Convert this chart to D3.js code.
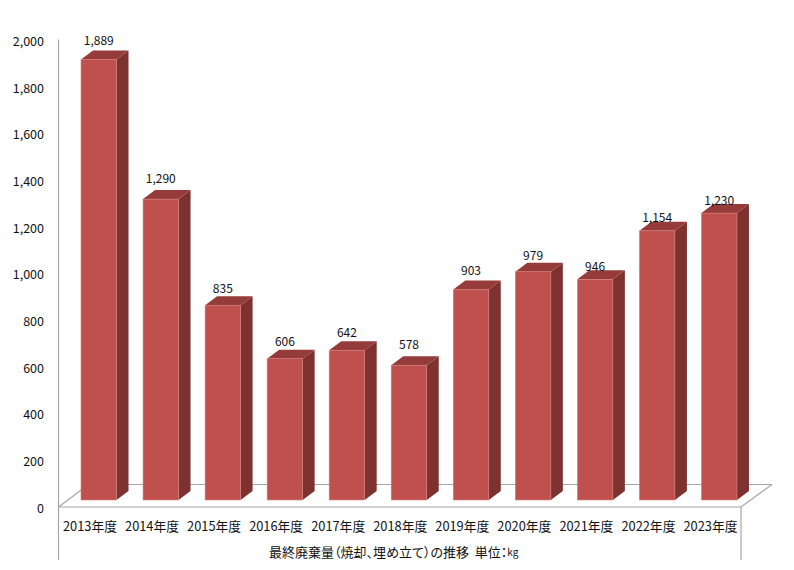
<!DOCTYPE html>
<html><head><meta charset="utf-8">
<script src="https://cdn.jsdelivr.net/npm/d3@7/dist/d3.min.js"></script>
<style>html,body{margin:0;background:#fff}svg{display:block}
text{font-family:"Noto Sans CJK JP","Noto Sans",sans-serif;font-size:12.5px;fill:#111}
.xl{font-size:12.8px}.vl{font-size:12px}.tl{font-size:13px;font-feature-settings:"palt"}</style>
</head><body><svg id="c" width="794" height="570"></svg>
<script>
const categories=["2013年度","2014年度","2015年度","2016年度","2017年度","2018年度","2019年度","2020年度","2021年度","2022年度","2023年度"];
const values=[1889,1290,835,606,642,578,903,979,946,1154,1230];
const yTicks=[0,200,400,600,800,1000,1200,1400,1600,1800,2000];
const axisTitle="最終廃棄量\uFF08焼却、埋め立て\uFF09の推移  単位\uFF1A";
const axisUnit="kg";
const labelGap=[19.5,21.5,17.5,18.5,18.5,21.5,19.5,17.5,13.5,14.5,13.5];

const plotLeft=58.5,plotRight=741,floorF=507,plotTop=40.5,depX=12,depY=9,barW=35.5;
const svg=d3.select("#c");
const x=d3.scaleBand().domain(categories).range([plotLeft,plotRight]);
const y=d3.scaleLinear().domain([0,2000]).range([floorF,plotTop]);
const barBase=7;
const grey="#a6a6a6";
const line=(a,b,c,d)=>svg.append("line").attr("x1",a).attr("y1",b).attr("x2",c).attr("y2",d).attr("stroke",grey).attr("stroke-width",1.2);
line(plotLeft,plotTop-1,plotLeft,560);
line(plotLeft,floorF,plotRight,floorF);
line(plotRight,floorF,plotRight,560);
line(plotLeft,floorF,plotLeft+24,floorF-18);
line(plotLeft+24,484.5,772,484.5);
line(plotRight,floorF,772,484.5);

svg.selectAll(".yl").data(yTicks).join("text").attr("class","yl")
 .attr("x",44).attr("y",d=>y(d)).attr("text-anchor","end").attr("dominant-baseline","central")
 .text(d3.format(","));

const bars=svg.selectAll(".b").data(categories.map((c,i)=>({c,v:values[i],i}))).join("g").attr("class","b")
 .attr("transform",d=>`translate(${x(d.c)+22.5},0)`);
const by=d=>y(d.v)-barBase, bb=floorF-barBase;
bars.append("path").attr("fill","#7d3230")
 .attr("d",d=>`M${barW},${by(d)}l${depX},${-depY}L${barW+depX},${bb-depY}L${barW},${bb}Z`);
bars.append("path").attr("fill","#953b39")
 .attr("d",d=>`M0,${by(d)}l${depX},${-depY}h${barW}l${-depX},${depY}Z`);
bars.append("rect").attr("fill","#c0504d").attr("stroke","#d27f7c").attr("stroke-width",.6)
 .attr("x",0).attr("y",by).attr("width",barW).attr("height",d=>bb-by(d));
bars.append("text").attr("class","vl").attr("x",barW/2).attr("y",d=>by(d)-labelGap[d.i]).attr("text-anchor","middle")
 .attr("dominant-baseline","central").text(d=>d3.format(",")(d.v));

svg.selectAll(".xl").data(categories).join("text").attr("class","xl")
 .attr("x",d=>x(d)+x.bandwidth()/2+0.5).attr("y",525).attr("text-anchor","middle").attr("dominant-baseline","central").text(d=>d);
const t=svg.append("text").attr("class","tl").attr("x",269).attr("y",551).attr("dominant-baseline","central").style("white-space","pre");
t.append("tspan").text(axisTitle);
t.append("tspan").style("font-size","10px").text(axisUnit);
</script></body></html>
